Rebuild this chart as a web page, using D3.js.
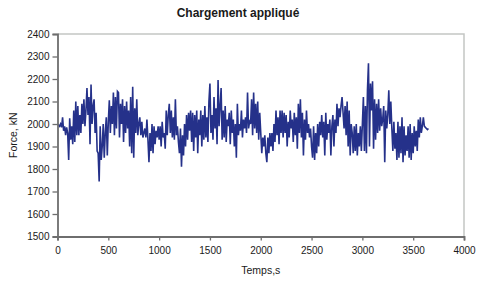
<!DOCTYPE html>
<html>
<head>
<meta charset="utf-8">
<script src="https://cdn.jsdelivr.net/npm/d3@7"></script>
<style>
  body { margin: 0; background: #fff; }
  svg { font-family: "Liberation Sans", Arial, sans-serif; }
</style>
</head>
<body>
<div id="chart"></div>
<script>
// time step of the recorded signal (s)
var timeStep = 10;

// force readings, kN, one every 10 s from t = 0
var forceValues = [
  2000,1995,1990,2000,1985,2030,1970,1990,1950,1985,
  1960,1840,2025,1930,1990,1910,2060,1920,2100,1950,
  2080,1950,2040,1960,2090,2000,2110,1990,2060,2160,
  2040,2120,1910,2175,2000,2080,2110,1960,2050,1880,
  1870,1745,1990,1840,1900,2000,1850,1960,2030,1860,
  2010,2105,1960,2080,2000,2140,1950,2120,1980,2145,
  2140,1940,2090,2000,2110,1920,2080,1960,2100,1980,
  2060,1900,2120,1870,2165,1850,2070,1960,2110,1950,
  2000,2030,1950,2010,1940,1960,1980,1940,2020,1930,
  1830,1960,1880,2000,1870,1990,1910,1970,1940,1990,
  1930,1990,1900,2010,1940,1960,1890,2060,1950,2040,
  2090,1960,2060,1940,2030,1930,2110,1950,1990,1920,
  1870,1980,1810,1950,1860,2000,1900,2040,1930,2050,
  1970,2060,1920,2050,1880,2040,1940,2060,1870,2020,
  1950,2060,1900,2040,1930,2080,1940,2030,1920,2100,
  2180,1960,2040,1930,2120,1980,2070,1910,2195,1990,
  2080,2160,1930,2060,1940,2080,1920,2020,1990,2050,
  1910,2060,1960,2020,1900,2000,1850,2090,1950,2000,
  1970,2060,1940,2020,1980,2030,1960,2140,1980,2010,
  2000,2110,1950,2140,1980,2090,1960,2100,1930,2050,
  1960,1870,1940,1900,1950,1870,1830,1940,1870,1960,
  1900,1960,1880,2000,1920,2060,1950,2030,1910,2060,
  1960,2060,1940,2050,1960,2040,1900,2010,1940,2060,
  1980,2020,1920,2050,1950,2030,1890,2090,1960,2110,
  1940,2050,1860,2020,1930,2060,1960,2000,1940,1980,
  1900,1850,1990,1840,1960,1870,2000,1900,2010,1950,
  2040,1940,2010,1860,2050,1930,2000,1960,2020,1860,
  1990,2040,1900,2020,1960,2090,1990,2070,2030,2080,
  2120,2050,1980,2080,1950,2100,1900,2060,1860,2000,
  1960,1870,1990,1880,2000,1860,1960,1900,1990,1880,
  2000,2120,1880,2080,1870,2150,2270,1900,2180,2060,
  2190,1890,2110,1930,2090,1960,2110,1970,2070,1990,
  2020,2080,1830,2060,1980,2040,2150,2000,2100,1980,
  1880,2010,1890,1960,1840,2010,1850,1990,1870,2030,
  1830,1990,1860,1950,1880,1990,1850,2000,1840,1960,
  1870,1990,1900,1970,1880,2020,1940,2030,1960,1990,
  2030,1990,1985,1980,1975,1980
];

var xTicks = [0, 500, 1000, 1500, 2000, 2500, 3000, 3500, 4000];
var yTicks = [1500, 1600, 1700, 1800, 1900, 2000, 2100, 2200, 2300, 2400];

var svgWidth = 478;
var svgHeight = 281;
var margin = { top: 34, right: 14, bottom: 44.5, left: 57.5 };
var width = svgWidth - margin.left - margin.right;
var height = svgHeight - margin.top - margin.bottom;

var svg = d3.select("#chart")
  .append("svg")
  .attr("width", svgWidth)
  .attr("height", svgHeight);

var g = svg.append("g")
  .attr("transform", "translate(" + margin.left + "," + margin.top + ")");

var x = d3.scaleLinear().domain([0, 4000]).range([0, width]);
var y = d3.scaleLinear().domain([1500, 2400]).range([height, 0]);

// light frame of plot area (top and right)
g.append("path")
  .attr("d", "M0,0H" + width + "V" + height)
  .attr("fill", "none")
  .attr("stroke", "#c4c6c4")
  .attr("stroke-width", 1.5);

// data line
var line = d3.line()
  .x(function(d, i) { return x(i * timeStep); })
  .y(function(d) { return y(d); });

g.append("path")
  .datum(forceValues)
  .attr("fill", "none")
  .attr("stroke", "#25318a")
  .attr("stroke-width", 1.6)
  .attr("d", line);

// axes
var fmt = d3.format("d");
var yAxis = g.append("g")
  .call(d3.axisLeft(y).tickValues(yTicks).tickFormat(fmt).tickSize(5).tickPadding(3));
var xAxis = g.append("g")
  .attr("transform", "translate(0," + height + ")")
  .call(d3.axisBottom(x).tickValues(xTicks).tickFormat(fmt).tickSize(4).tickPadding(6));

[xAxis, yAxis].forEach(function(a) {
  a.selectAll("path, line").attr("stroke", "#6e6e6e").attr("stroke-width", 1.3);
  a.selectAll("text").attr("font-size", "10px").attr("fill", "#1a1a1a");
  a.select(".domain").attr("stroke-width", 1.8);
});

// title
svg.append("text")
  .attr("x", 238)
  .attr("y", 17)
  .attr("text-anchor", "middle")
  .attr("font-size", "12px")
  .attr("font-weight", "bold")
  .attr("fill", "#1a1a1a")
  .text("Chargement appliqué");

// axis labels
svg.append("text")
  .attr("x", margin.left + x(2000))
  .attr("y", 274)
  .attr("text-anchor", "middle")
  .attr("font-size", "10.5px")
  .attr("fill", "#1a1a1a")
  .text("Temps,s");

svg.append("text")
  .attr("transform", "translate(17," + (margin.top + height / 2) + ") rotate(-90)")
  .attr("text-anchor", "middle")
  .attr("font-size", "10.5px")
  .attr("fill", "#1a1a1a")
  .text("Force, kN");
</script>
</body>
</html>
